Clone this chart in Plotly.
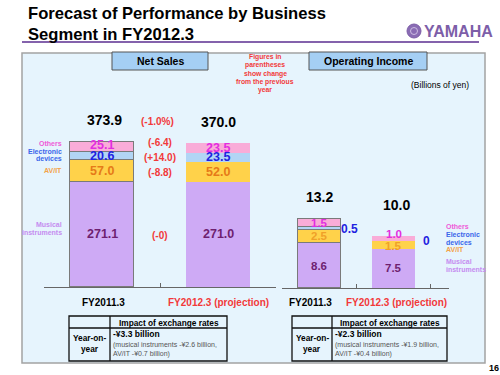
import plotly.graph_objects as go

# ---------------- data ----------------
categories = ["FY2011.3", "FY2012.3 (projection)"]
segments = ["Musical instruments", "AV/IT", "Electronic devices", "Others"]

sales_mi = [271.1, 271.0]
sales_av = [57.0, 52.0]
sales_ed = [20.6, 23.5]
sales_ot = [25.1, 23.5]
sales_total = [373.9, 370.0]
sales_change_total = "(-1.0%)"
sales_change_seg = ["(-0)", "(-8.8)", "(+14.0)", "(-6.4)"]  # MI, AV/IT, ED, Others

oi_mi = [8.6, 7.5]
oi_av = [2.5, 1.5]
oi_ed = [0.5, 0]
oi_ot = [1.5, 1.0]
oi_total = [13.2, 10.0]

fx_sales = ["-¥3.3 billion", "(musical instruments -¥2.6 billion,", "AV/IT -¥0.7 billion)"]
fx_oi = ["-¥2.3 billion", "(musical instruments -¥1.9 billion,", "AV/IT -¥0.4 billion)"]

# ---------------- style ----------------
W, H = 500, 375
FONT = "Liberation Sans, Arial, sans-serif"
bar_colors = ["#ceaaf5", "#ffd24a", "#b2d5f5", "#f9acd8"]
val_colors = ["#6e1f70", "#e67a18", "#1f22e0", "#e22ee0"]
oi_val_colors = ["#6e1f70", "#f0a028", "#1f22e0", "#e22ee0"]
leg_colors = ["#c58cf0", "#f3a24a", "#3a66ea", "#ef5ad8"]
RED = "#f2393a"

S_PX = 0.388   # px per billion, net sales
O_PX = 5.23    # px per billion, operating income


def px(x):
    return x / W


def py(y):
    return 1 - y / H


fig = go.Figure()

sales_vals = [sales_mi, sales_av, sales_ed, sales_ot]
oi_vals = [oi_mi, oi_av, oi_ed, oi_ot]
edge = ["#7a7a7a", "rgba(0,0,0,0)"]
for i, seg in enumerate(segments):
    fig.add_bar(x=categories, y=sales_vals[i], xaxis="x", yaxis="y", name=seg,
                marker=dict(color=bar_colors[i], line=dict(color=edge, width=1)),
                width=0.56, showlegend=False, hoverinfo="skip")
    fig.add_bar(x=categories, y=oi_vals[i], xaxis="x2", yaxis="y2", name=seg,
                marker=dict(color=bar_colors[i], line=dict(color=edge, width=1)),
                width=0.575, showlegend=False, hoverinfo="skip")

ann = []


def A(text, x, y, size, color="#000", bold=True, xanchor="center", yanchor="middle",
      xref="paper", yref="paper", xshift=0, yshift=0, family=FONT):
    if bold:
        text = "<b>" + text + "</b>"
    ann.append(dict(text=text, x=x, y=y, xref=xref, yref=yref, xanchor=xanchor,
                    yanchor=yanchor, showarrow=False, xshift=xshift, yshift=yshift,
                    font=dict(size=size, color=color, family=family)))


# small label nudges (px)
sales_nudge = [[0, 0, 0, 2], [0, 0, 0, 0]]
oi_nudge = [[0, 0, 0, 0], [0, -1, 0, 4]]
change_nudge = [-1.5, -2, -2, 4]

# segment value labels (midpoints of stacked segments)
for j in range(2):
    base = 0
    for i in range(4):
        v = sales_vals[i][j]
        A(f"{v:.1f}", categories[j], base + v / 2, 12.5, val_colors[i], xref="x", yref="y",
          yshift=sales_nudge[j][i])
        base += v
    base = 0
    for i in range(4):
        v = oi_vals[i][j]
        mid = base + v / 2
        if i == 2:
            lab = "0" if v == 0 else f"{v:.1f}"
            A(lab, categories[j], mid, 12, val_colors[i], xref="x2", yref="y2",
              xshift=30 if j == 0 else 33)
        else:
            A(f"{v:.1f}", categories[j], mid, 11.5, oi_val_colors[i], xref="x2", yref="y2",
              yshift=oi_nudge[j][i])
        base += v

# totals
A(f"{sales_total[0]:.1f}", categories[0], sales_total[0], 14, xref="x", yref="y", yshift=22, xshift=2)
A(f"{sales_total[1]:.1f}", categories[1], sales_total[1], 14, xref="x", yref="y", yshift=21)
A(f"{oi_total[0]:.1f}", categories[0], oi_total[0], 14, xref="x2", yref="y2", yshift=22)
A(f"{oi_total[1]:.1f}", categories[1], oi_total[1], 14, xref="x2", yref="y2", yshift=31, xshift=3)

# change labels between sales bars
A(sales_change_total, 0.48, sales_total[0], 10, RED, xref="x", yref="y", yshift=20)
base = 0
for i in range(4):
    v = sales_vals[i][0]
    A(sales_change_seg[i], 0.5, base + v / 2, 10, RED, xref="x", yref="y", yshift=change_nudge[i])
    base += v

# category labels
A(categories[0], categories[0], py(302), 10, "#000", xref="x", xshift=1)
A(categories[1], categories[1], py(302), 10, RED, xref="x")
A(categories[0], categories[0], py(302), 10, "#000", xref="x2", xshift=-9)
A(categories[1], categories[1], py(302), 10, RED, xref="x2", xshift=3)

# left segment legend
A("Others", px(64), py(143), 7, leg_colors[3], xanchor="right")
A("Electronic", px(64), py(151), 7, leg_colors[2], xanchor="right")
A("devices", px(64), py(159), 7, leg_colors[2], xanchor="right")
A("AV/IT", px(64), py(171), 7, leg_colors[1], xanchor="right")
A("Musical", px(64), py(224), 7, leg_colors[0], xanchor="right")
A("instruments", px(64), py(233), 7, leg_colors[0], xanchor="right")
# right segment legend
A("Others", px(444), py(226), 7, leg_colors[3], xanchor="left")
A("Electronic", px(444), py(234), 7, leg_colors[2], xanchor="left")
A("devices", px(444), py(242), 7, leg_colors[2], xanchor="left")
A("AV/IT", px(444), py(249), 7, leg_colors[1], xanchor="left")
A("Musical", px(444), py(261), 7, leg_colors[0], xanchor="left")
A("instruments", px(444), py(269), 7, leg_colors[0], xanchor="left")

# title
A("Forecast of Performance by Business", px(26), py(14), 16.6, xanchor="left")
A("Segment in FY2012.3", px(26), py(34), 16.6, xanchor="left")
A("YAMAHA", px(422), py(31), 16, "#7d5ea8", xanchor="left",
  family="Liberation Sans Narrow, Arial Narrow, sans-serif")

# header boxes text
A("Net Sales", px(160), py(61), 10.5)
A("Operating Income", px(368), py(61), 10.5)
for k, t in enumerate(["Figures in", "parentheses", "show change", "from the previous", "year"]):
    A(t, px(265), py(57 + k * 8.3), 6.8, RED)
A("(Billions of yen)", px(440), py(85), 8.5, bold=False)

# tables
for (x0, xm, x1, fx) in [(69, 110, 227, fx_sales), (292, 332, 447, fx_oi)]:
    A("Impact of exchange rates", px((xm + x1) / 2), py(322.5), 8.3)
    A("Year-on-", px((x0 + xm) / 2), py(338), 8.3)
    A("year", px((x0 + xm) / 2), py(349), 8.3)
    A(fx[0], px(xm + 1), py(334), 8.5, xanchor="left")
    A(fx[1], px(xm + 1), py(345), 7, "#555", bold=False, xanchor="left")
    A(fx[2], px(xm + 1), py(354), 7, "#555", bold=False, xanchor="left")

A("16", px(494), py(368), 9)

shapes = []


def R(x0, y0, x1, y1, fill="rgba(0,0,0,0)", line="#000", lw=1, layer="below"):
    shapes.append(dict(type="rect", xref="paper", yref="paper", x0=px(x0), x1=px(x1),
                       y0=py(y1), y1=py(y0), fillcolor=fill, line=dict(color=line, width=lw),
                       layer=layer))


def L(x0, y0, x1, y1, color="#000", lw=1, layer="below"):
    shapes.append(dict(type="line", xref="paper", yref="paper", x0=px(x0), x1=px(x1),
                       y0=py(y0), y1=py(y1), line=dict(color=color, width=lw), layer=layer))


R(22, 53, 485, 363, fill="#e6f4fd", line="#a3a3a3", lw=1.5)
L(22, 42, 479, 42, "#8462ac", 2)
R(112, 52, 208, 70, fill="#a5cff4", line="#555", lw=1)
R(309, 52, 427, 70, fill="#a5cff4", line="#555", lw=1)
# logo emblem
shapes.append(dict(type="circle", xref="paper", yref="paper", x0=px(407), x1=px(421),
                   y0=py(38), y1=py(24), fillcolor="#8a6cb4", line=dict(color="#7d5ea8", width=1)))
shapes.append(dict(type="circle", xref="paper", yref="paper", x0=px(410.5), x1=px(417.5),
                   y0=py(34.5), y1=py(27.5), fillcolor="rgba(0,0,0,0)",
                   line=dict(color="#cdbde3", width=1)))
# tables
for (x0, xm, x1) in [(69, 110, 227), (292, 332, 447)]:
    R(x0, 316, x1, 361, line="#111", lw=1.3)
    L(x0, 328, x1, 328, "#111", 1.3)
    L(xm, 316, xm, 361, "#111", 1.3)

axis_common = dict(type="category", showline=True, linecolor="#666", linewidth=1,
                   ticks="inside", tickson="boundaries", ticklen=4, tickcolor="#666",
                   showticklabels=False, showgrid=False, zeroline=False, fixedrange=True)

fig.update_layout(
    width=W, height=H, autosize=False,
    margin=dict(l=0, r=0, t=0, b=0),
    paper_bgcolor="white", plot_bgcolor="rgba(0,0,0,0)",
    barmode="stack", bargap=0,
    xaxis=dict(domain=[px(44), px(276)], anchor="y", **axis_common),
    xaxis2=dict(domain=[px(282), px(449)], anchor="y2", **axis_common),
    yaxis=dict(domain=[py(287), py(90)], range=[0, (287 - 90) / S_PX], visible=False,
               fixedrange=True),
    yaxis2=dict(domain=[py(288), py(90)], range=[0, (288 - 90) / O_PX], visible=False,
                fixedrange=True),
    annotations=ann, shapes=shapes, font=dict(family=FONT),
)

fig.write_html("out.html", config={"displayModeBar": False},
               post_script="document.body.style.margin='0';document.body.style.overflow='hidden';")
